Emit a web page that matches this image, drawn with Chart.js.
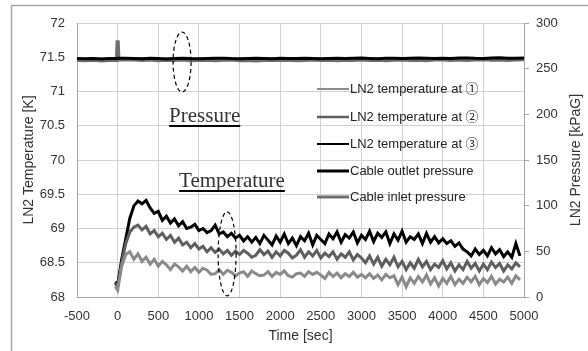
<!DOCTYPE html>
<html>
<head>
<meta charset="utf-8">
<script src="https://cdn.jsdelivr.net/npm/chart.js@4.4.0/dist/chart.umd.min.js"></script>
<style>
  html, body { margin: 0; padding: 0; background: #fff; }
</style>
</head>
<body>
<canvas id="chart" width="588" height="351"></canvas>
<script>
// temperature samples [sec]
var tempTimes = [-30,
  0, 50, 100, 150, 200, 250, 300, 350, 400, 450,
  500, 550, 600, 650, 700, 750, 800, 850, 900, 950,
  1000, 1050, 1100, 1150, 1200, 1250, 1300, 1350, 1400, 1450,
  1500, 1550, 1600, 1650, 1700, 1750, 1800, 1850, 1900, 1950,
  2000, 2050, 2100, 2150, 2200, 2250, 2300, 2350, 2400, 2450,
  2500, 2550, 2600, 2650, 2700, 2750, 2800, 2850, 2900, 2950,
  3000, 3050, 3100, 3150, 3200, 3250, 3300, 3350, 3400, 3450,
  3500, 3550, 3600, 3650, 3700, 3750, 3800, 3850, 3900, 3950,
  4000, 4050, 4100, 4150, 4200, 4250, 4300, 4350, 4400, 4450,
  4500, 4550, 4600, 4650, 4700, 4750, 4800, 4850, 4900, 4950];

// LN2 temperature at 1 [K]
var temp1 = [68.15,
  68.10, 68.45, 68.62, 68.66, 68.55, 68.63, 68.52, 68.58, 68.48, 68.55,
  68.45, 68.52, 68.47, 68.40, 68.48, 68.44, 68.38, 68.45, 68.37, 68.43,
  68.36, 68.42, 68.39, 68.33, 68.34, 68.40, 68.33, 68.39, 68.36, 68.31,
  68.35, 68.37, 68.30, 68.38, 68.34, 68.31, 68.32, 68.37, 68.30, 68.36,
  68.33, 68.38, 68.31, 68.29, 68.34, 68.35, 68.30, 68.37, 68.33, 68.36,
  68.32, 68.27, 68.36, 68.30, 68.35, 68.28, 68.34, 68.30, 68.36, 68.29,
  68.33, 68.28, 68.34, 68.27, 68.32, 68.25, 68.33, 68.28, 68.31, 68.18,
  68.29, 68.15, 68.28, 68.20, 68.30, 68.22, 68.32, 68.19, 68.28, 68.16,
  68.27, 68.20, 68.30, 68.18, 68.26, 68.20, 68.29, 68.22, 68.30, 68.18,
  68.27, 68.21, 68.30, 68.19, 68.26, 68.22, 68.29, 68.20, 68.31, 68.25];

// LN2 temperature at 2 [K]
var temp2 = [68.20,
  68.15, 68.50, 68.78, 68.95, 69.02, 69.05, 68.98, 69.03, 68.92, 68.97,
  68.88, 68.93, 68.84, 68.90, 68.80, 68.86, 68.76, 68.80, 68.72, 68.78,
  68.70, 68.74, 68.66, 68.72, 68.65, 68.70, 68.63, 68.68, 68.61, 68.67,
  68.62, 68.68, 68.64, 68.58, 68.61, 68.69, 68.62, 68.67, 68.58, 68.66,
  68.60, 68.68, 68.64, 68.57, 68.61, 68.69, 68.58, 68.66, 68.60, 68.68,
  68.57, 68.64, 68.59, 68.66, 68.55, 68.63, 68.58, 68.66, 68.54, 68.62,
  68.57, 68.50, 68.60, 68.48, 68.58, 68.45, 68.55, 68.47, 68.58, 68.44,
  68.52, 68.40, 68.50, 68.42, 68.55, 68.44, 68.52, 68.40, 68.48, 68.43,
  68.53, 68.41, 68.50, 68.38, 68.47, 68.40, 68.52, 68.42, 68.49, 68.38,
  68.48, 68.40, 68.51, 68.43, 68.49, 68.38, 68.47, 68.41, 68.50, 68.44];

// LN2 temperature at 3 [K]
var temp3 = [68.22,
  68.18, 68.55, 68.85, 69.15, 69.33, 69.40, 69.36, 69.41, 69.30, 69.22,
  69.25, 69.12, 69.18, 69.08, 69.14, 69.04, 69.10, 69.00, 69.02, 69.06,
  68.97, 69.00, 68.94, 68.97, 69.05, 68.92, 68.95, 68.88, 68.93, 68.86,
  68.90, 68.82, 68.88, 68.80, 68.87, 68.78, 68.90, 68.83, 68.76, 68.89,
  68.80, 68.92, 68.78, 68.86, 68.75, 68.88, 68.82, 68.93, 68.76, 68.90,
  68.84, 68.78, 68.92, 68.85, 68.95, 68.80, 68.91, 68.86, 68.95, 68.79,
  68.90, 68.84, 68.96, 68.81, 68.93, 68.87, 68.95, 68.78, 68.92, 68.83,
  68.96, 68.80, 68.88, 68.84, 68.92, 68.78, 68.93, 68.80, 68.88, 68.79,
  68.85, 68.78, 68.82, 68.74, 68.79, 68.70, 68.66, 68.60, 68.70, 68.62,
  68.68, 68.60, 68.72, 68.63, 68.69, 68.59, 68.66, 68.58, 68.78, 68.60];

// pressure samples [sec]
var presTimes = [-500, -400, -300, -200, -100,
  -10, 0, 10,
  100, 200, 300, 400, 500, 600, 700, 800, 900, 1000,
  1100, 1200, 1300, 1400, 1500, 1600, 1700, 1800, 1900, 2000,
  2100, 2200, 2300, 2400, 2500, 2600, 2700, 2800, 2900, 3000,
  3100, 3200, 3300, 3400, 3500, 3600, 3700, 3800, 3900, 4000,
  4100, 4200, 4300, 4400, 4500, 4600, 4700, 4800, 4900, 5000];

// cable outlet pressure [kPaG]
var outletPres = [261.2, 260.8, 261.0, 260.6, 261.1,
  261.0, 261.3, 261.4,
  261.5, 261.2, 260.9, 261.3, 261.0, 260.7, 261.2, 261.4, 261.0, 260.8,
  261.1, 261.3, 261.5, 261.0, 260.8, 261.2, 261.4, 261.1, 260.9, 261.3,
  261.0, 261.2, 261.5, 261.1, 260.8, 261.2, 261.4, 261.0, 261.3, 261.6,
  261.2, 260.9, 261.3, 261.5, 261.1, 261.4, 261.7, 261.3, 261.0, 261.5,
  261.2, 261.6, 261.8, 261.4, 261.2, 261.6, 261.9, 261.5, 261.3, 261.7];

// cable inlet pressure [kPaG]
var inletPres = [259.6, 259.2, 259.8, 259.0, 259.5,
  259.4, 281.0, 260.2,
  260.4, 260.0, 259.6, 259.9, 259.2, 259.7, 259.4, 259.9, 259.3, 259.6,
  259.8, 259.2, 259.7, 259.9, 259.3, 259.6, 259.0, 259.5, 259.8, 259.4,
  259.7, 259.1, 259.6, 259.9, 259.4, 259.7, 259.2, 259.8, 259.5, 259.9,
  259.4, 259.8, 259.2, 259.7, 260.0, 259.5, 259.8, 259.3, 259.9, 260.1,
  259.6, 260.0, 259.4, 259.9, 260.2, 259.7, 260.0, 259.5, 260.1, 260.3];

var seriesLabels = ["LN2 temperature at \u2460", "LN2 temperature at \u2461", "LN2 temperature at \u2462",
  "Cable outlet pressure", "Cable inlet pressure"];

// annotations (data units)
var noteTexts = [
  { text: "Pressure", x: 633, y: 70.555 },
  { text: "Temperature", x: 756, y: 69.606 }
];
var noteEllipses = [
  { x: 793, y: 71.43, rx: 9, ry: 30 },
  { x: 1347, y: 68.63, rx: 9, ry: 42 }
];

var FONT = "'Liberation Sans', 'Noto Sans CJK JP', sans-serif";

function pairs(xs, ys) {
  return xs.map(function(x, i) { return { x: x, y: ys[i] }; });
}

function mkLine(label, data, color, width, axis) {
  return {
    label: label,
    data: data,
    borderColor: color,
    borderWidth: width,
    fill: false,
    tension: 0,
    pointRadius: 0,
    pointHoverRadius: 0,
    yAxisID: axis
  };
}

// frame around whole figure + right axis title (reads bottom-to-top)
var framePlugin = {
  id: "frame",
  beforeDraw: function(chart) {
    var ctx = chart.ctx;
    ctx.save();
    ctx.strokeStyle = "#a6a6a6";
    ctx.lineWidth = 1.5;
    ctx.strokeRect(11.5, 5.5, 700, 500);
    ctx.restore();
  },
  afterDraw: function(chart) {
    var ctx = chart.ctx, area = chart.chartArea;
    ctx.save();
    ctx.translate(576, (area.top + area.bottom) / 2);
    ctx.rotate(-Math.PI / 2);
    ctx.font = "14px " + FONT;
    ctx.fillStyle = "#333";
    ctx.textAlign = "center";
    ctx.textBaseline = "middle";
    ctx.fillText("LN2 Pressure [kPaG]", 0, 0);
    ctx.restore();
  }
};

// legend drawn inside the plot area
var legendPlugin = {
  id: "insideLegend",
  afterDraw: function(chart) {
    var ctx = chart.ctx;
    var rows = [89, 117, 144, 171, 197];
    ctx.save();
    ctx.font = "13px " + FONT;
    ctx.textBaseline = "middle";
    chart.data.datasets.forEach(function(ds, i) {
      var y = rows[i];
      ctx.strokeStyle = ds.borderColor;
      ctx.lineWidth = ds.legendWidth;
      ctx.beginPath();
      ctx.moveTo(317, y);
      ctx.lineTo(349, y);
      ctx.stroke();
      ctx.fillStyle = "#222";
      ctx.fillText(ds.label, 350, y + 0.5);
    });
    ctx.restore();
  }
};

// "Pressure" / "Temperature" notes and dashed ellipses
var notePlugin = {
  id: "notes",
  afterDatasetsDraw: function(chart) {
    var ctx = chart.ctx;
    var sx = chart.scales.x, sy = chart.scales.y;
    ctx.save();
    ctx.font = "21px 'Liberation Serif', serif";
    ctx.textBaseline = "alphabetic";
    noteTexts.forEach(function(n) {
      var px = sx.getPixelForValue(n.x), py = sy.getPixelForValue(n.y);
      var w = ctx.measureText(n.text).width;
      ctx.fillStyle = "#333";
      ctx.fillText(n.text, px, py);
      ctx.fillStyle = "#000";
      ctx.fillRect(px, py + 3, w, 2);
    });
    ctx.strokeStyle = "#000";
    ctx.lineWidth = 1.2;
    ctx.setLineDash([4, 3]);
    noteEllipses.forEach(function(e) {
      var px = sx.getPixelForValue(e.x), py = sy.getPixelForValue(e.y);
      ctx.beginPath();
      ctx.ellipse(px, py, e.rx, e.ry, 0, 0, Math.PI * 2);
      ctx.stroke();
    });
    ctx.restore();
  }
};

var ds1 = mkLine(seriesLabels[0], pairs(tempTimes, temp1), "#8a8a8a", 3, "y");
ds1.legendWidth = 2;
var ds2 = mkLine(seriesLabels[1], pairs(tempTimes, temp2), "#5e5e5e", 3, "y");
ds2.legendWidth = 2.5;
var ds3 = mkLine(seriesLabels[2], pairs(tempTimes, temp3), "#000000", 3, "y");
ds3.legendWidth = 2;
var ds4 = mkLine(seriesLabels[3], pairs(presTimes, outletPres), "#000000", 3, "y1");
ds4.legendWidth = 3;
var ds5 = mkLine(seriesLabels[4], pairs(presTimes, inletPres), "#6e6e6e", 4, "y1");
ds5.legendWidth = 3;

var ctx = document.getElementById("chart").getContext("2d");
var chart = new Chart(ctx, {
  type: "line",
  data: { datasets: [ds1, ds2, ds3, ds4, ds5] },
  plugins: [framePlugin, notePlugin, legendPlugin],
  options: {
    responsive: false,
    animation: false,
    layout: { padding: { top: 23, left: 21, right: 4, bottom: 6 } },
    plugins: {
      legend: { display: false },
      tooltip: { enabled: false }
    },
    scales: {
      x: {
        type: "linear",
        min: -500,
        max: 5000,
        ticks: {
          stepSize: 500,
          padding: 12,
          color: "#333",
          font: { family: FONT, size: 13 },
          callback: function(v) { return String(v); }
        },
        grid: { color: "#d0d0d0", drawTicks: false },
        border: { color: "#a6a6a6" },
        title: {
          display: true,
          text: "Time [sec]",
          color: "#333",
          padding: 0,
          font: { family: FONT, size: 14 }
        },
        afterFit: function(s) { s.height = 48; }
      },
      y: {
        position: "left",
        min: 68,
        max: 72,
        ticks: {
          stepSize: 0.5,
          padding: 12,
          color: "#333",
          font: { family: FONT, size: 13 },
          callback: function(v) { return String(v); }
        },
        grid: { color: "#d0d0d0", drawTicks: false },
        border: { color: "#a6a6a6" },
        title: {
          display: true,
          text: "LN2 Temperature [K]",
          color: "#333",
          padding: 0,
          font: { family: FONT, size: 14 }
        },
        afterFit: function(s) { s.width = 56; }
      },
      y1: {
        position: "right",
        min: 0,
        max: 300,
        ticks: {
          stepSize: 50,
          padding: 7,
          color: "#333",
          font: { family: FONT, size: 13 },
          callback: function(v) { return String(v); }
        },
        grid: { drawOnChartArea: false, drawTicks: true, tickLength: 5, color: "#a6a6a6" },
        border: { color: "#a6a6a6" },
        afterFit: function(s) { s.width = 60; }
      }
    }
  }
});
</script>
</body>
</html>
